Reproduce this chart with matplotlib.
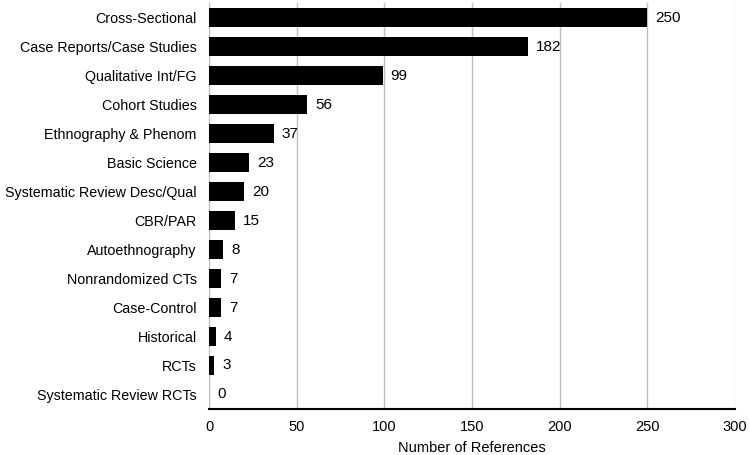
import matplotlib.pyplot as plt

categories = ['Cross-Sectional', 'Case Reports/Case Studies', 'Qualitative Int/FG',
              'Cohort Studies', 'Ethnography & Phenom', 'Basic Science',
              'Systematic Review Desc/Qual', 'CBR/PAR', 'Autoethnography',
              'Nonrandomized CTs', 'Case-Control', 'Historical', 'RCTs',
              'Systematic Review RCTs']
counts = [250, 182, 99, 56, 37, 23, 20, 15, 8, 7, 7, 4, 3, 0]
xticks = [0, 50, 100, 150, 200, 250, 300]

plt.rcParams['font.family'] = ['Liberation Sans', 'DejaVu Sans']

fig = plt.figure(figsize=(7.5, 4.55), dpi=100)
ax = fig.add_axes([0.2787, 0.1011, 0.7013, 0.8923])

ypos = list(range(len(categories)))
bars = ax.barh(ypos, counts, height=0.64, color='black', zorder=3)
ax.set_ylim(len(categories) - 0.5, -0.5)
ax.set_xlim(0, 300)
ax.set_xticks(xticks)
ax.set_yticks(ypos)
ax.set_yticklabels(categories, fontsize=10.3)
ax.tick_params(axis='x', labelsize=10.5, length=0, pad=8)
ax.tick_params(axis='y', length=0, pad=9)

for bar, v in zip(bars, counts):
    ax.text(v + 4.5, bar.get_y() + bar.get_height() / 2, str(v),
            va='center', ha='left', fontsize=11)

ax.grid(axis='x', color='#bfbfbf', linewidth=1, zorder=0)
for side in ['top', 'right']:
    ax.spines[side].set_visible(False)
ax.spines['left'].set_color('#bfbfbf')
ax.spines['bottom'].set_color('black')
ax.spines['bottom'].set_linewidth(1.5)
ax.set_xlabel('Number of References', fontsize=10.5, labelpad=5)

plt.savefig('out.png', dpi=100)
